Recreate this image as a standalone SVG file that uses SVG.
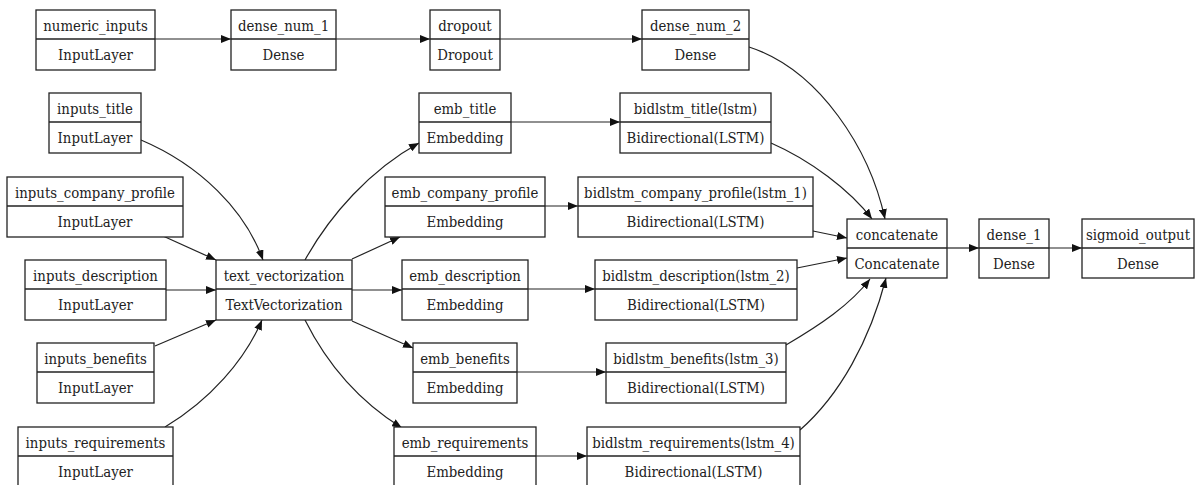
<svg xmlns="http://www.w3.org/2000/svg" width="1197" height="485" viewBox="0 0 1197 485">
<style>
.box{fill:#fff;stroke:#222;stroke-width:1.3}
.sep{stroke:#222;stroke-width:1.3}
text{font-family:"DejaVu Serif Condensed","DejaVu Serif","Liberation Serif",serif;font-stretch:condensed;font-size:14.8px;fill:#222;text-anchor:middle}
.e{fill:none;stroke:#222;stroke-width:1.2;marker-end:url(#ah)}
</style>
<defs>
<marker id="ah" markerUnits="userSpaceOnUse" markerWidth="11" markerHeight="8" refX="10" refY="4" orient="auto">
<path d="M0,0 L10,4 L0,8 Z" fill="#111"/>
</marker>
</defs>
<rect width="1197" height="485" fill="#fff"/>
<g id="connectors">
<path class="e" d="M155,39 L231,39"/>
<path class="e" d="M336,39 L430,39"/>
<path class="e" d="M500,39 L642,39"/>
<path class="e" d="M749,47 C820,70 870,150 885,219"/>
<path class="e" d="M771,143 C810,160 850,190 872,219"/>
<path class="e" d="M813,231 L847,238"/>
<path class="e" d="M797,268 L847,258"/>
<path class="e" d="M786,345 C820,325 850,305 870,279"/>
<path class="e" d="M800,430 C840,395 870,340 886,278"/>
<path class="e" d="M947,248 L979,248"/>
<path class="e" d="M1049,248 L1082,248"/>
<path class="e" d="M141,140 C200,165 245,210 263,260"/>
<path class="e" d="M163,236 L216,260"/>
<path class="e" d="M166,290 L216,290"/>
<path class="e" d="M155,346 L216,320"/>
<path class="e" d="M165,427 C210,400 245,360 262,320"/>
<path class="e" d="M305,260 C330,215 370,170 419,143"/>
<path class="e" d="M352,259 L400,237"/>
<path class="e" d="M352,290 L402,290"/>
<path class="e" d="M352,321 L413,348"/>
<path class="e" d="M305,320 C330,370 365,405 402,428"/>
<path class="e" d="M511,122 L620,122"/>
<path class="e" d="M545,206 L578,206"/>
<path class="e" d="M528,289 L595,289"/>
<path class="e" d="M517,372 L606,372"/>
<path class="e" d="M536,456 L587,456"/>
</g>
<g id="numeric_inputs"><rect class="box" x="36" y="10" width="119" height="60"/><line class="sep" x1="36" y1="39" x2="155" y2="39"/><text x="95.5" y="31">numeric_inputs</text><text x="95.5" y="60">InputLayer</text></g>
<g id="dense_num_1"><rect class="box" x="231" y="10" width="105" height="60"/><line class="sep" x1="231" y1="39" x2="336" y2="39"/><text x="283.5" y="31">dense_num_1</text><text x="283.5" y="60">Dense</text></g>
<g id="dropout"><rect class="box" x="430" y="10" width="70" height="60"/><line class="sep" x1="430" y1="39" x2="500" y2="39"/><text x="465" y="31">dropout</text><text x="465" y="60">Dropout</text></g>
<g id="dense_num_2"><rect class="box" x="642" y="10" width="107" height="60"/><line class="sep" x1="642" y1="39" x2="749" y2="39"/><text x="695.5" y="31">dense_num_2</text><text x="695.5" y="60">Dense</text></g>
<g id="inputs_title"><rect class="box" x="49" y="93" width="92" height="60"/><line class="sep" x1="49" y1="122" x2="141" y2="122"/><text x="95" y="114">inputs_title</text><text x="95" y="143">InputLayer</text></g>
<g id="emb_title"><rect class="box" x="419" y="93" width="92" height="60"/><line class="sep" x1="419" y1="122" x2="511" y2="122"/><text x="465" y="114">emb_title</text><text x="465" y="143">Embedding</text></g>
<g id="bidlstm_title"><rect class="box" x="620" y="93" width="151" height="60"/><line class="sep" x1="620" y1="122" x2="771" y2="122"/><text x="695.5" y="114">bidlstm_title(lstm)</text><text x="695.5" y="143">Bidirectional(LSTM)</text></g>
<g id="inputs_company_profile"><rect class="box" x="7" y="177" width="176" height="60"/><line class="sep" x1="7" y1="206" x2="183" y2="206"/><text x="95" y="198">inputs_company_profile</text><text x="95" y="227">InputLayer</text></g>
<g id="emb_company_profile"><rect class="box" x="385" y="177" width="160" height="60"/><line class="sep" x1="385" y1="206" x2="545" y2="206"/><text x="465" y="198">emb_company_profile</text><text x="465" y="227">Embedding</text></g>
<g id="bidlstm_company_profile"><rect class="box" x="578" y="177" width="235" height="60"/><line class="sep" x1="578" y1="206" x2="813" y2="206"/><text x="695.5" y="198">bidlstm_company_profile(lstm_1)</text><text x="695.5" y="227">Bidirectional(LSTM)</text></g>
<g id="inputs_description"><rect class="box" x="25" y="260" width="141" height="60"/><line class="sep" x1="25" y1="289" x2="166" y2="289"/><text x="95.5" y="281">inputs_description</text><text x="95.5" y="310">InputLayer</text></g>
<g id="text_vectorization"><rect class="box" x="216" y="260" width="136" height="60"/><line class="sep" x1="216" y1="289" x2="352" y2="289"/><text x="284" y="281">text_vectorization</text><text x="284" y="310">TextVectorization</text></g>
<g id="emb_description"><rect class="box" x="402" y="260" width="126" height="60"/><line class="sep" x1="402" y1="289" x2="528" y2="289"/><text x="465" y="281">emb_description</text><text x="465" y="310">Embedding</text></g>
<g id="bidlstm_description"><rect class="box" x="595" y="260" width="202" height="60"/><line class="sep" x1="595" y1="289" x2="797" y2="289"/><text x="696" y="281">bidlstm_description(lstm_2)</text><text x="696" y="310">Bidirectional(LSTM)</text></g>
<g id="concatenate"><rect class="box" x="847" y="219" width="100" height="59"/><line class="sep" x1="847" y1="248" x2="947" y2="248"/><text x="897" y="240">concatenate</text><text x="897" y="269">Concatenate</text></g>
<g id="dense_1"><rect class="box" x="979" y="219" width="70" height="59"/><line class="sep" x1="979" y1="248" x2="1049" y2="248"/><text x="1014" y="240">dense_1</text><text x="1014" y="269">Dense</text></g>
<g id="sigmoid_output"><rect class="box" x="1082" y="219" width="112" height="59"/><line class="sep" x1="1082" y1="248" x2="1194" y2="248"/><text x="1138" y="240">sigmoid_output</text><text x="1138" y="269">Dense</text></g>
<g id="inputs_benefits"><rect class="box" x="37" y="343" width="117" height="60"/><line class="sep" x1="37" y1="372" x2="154" y2="372"/><text x="95.5" y="364">inputs_benefits</text><text x="95.5" y="393">InputLayer</text></g>
<g id="emb_benefits"><rect class="box" x="413" y="343" width="104" height="60"/><line class="sep" x1="413" y1="372" x2="517" y2="372"/><text x="465" y="364">emb_benefits</text><text x="465" y="393">Embedding</text></g>
<g id="bidlstm_benefits"><rect class="box" x="606" y="343" width="180" height="60"/><line class="sep" x1="606" y1="372" x2="786" y2="372"/><text x="696" y="364">bidlstm_benefits(lstm_3)</text><text x="696" y="393">Bidirectional(LSTM)</text></g>
<g id="inputs_requirements"><rect class="box" x="18" y="427" width="155" height="60"/><line class="sep" x1="18" y1="456" x2="173" y2="456"/><text x="95.5" y="448">inputs_requirements</text><text x="95.5" y="477">InputLayer</text></g>
<g id="emb_requirements"><rect class="box" x="394" y="427" width="142" height="60"/><line class="sep" x1="394" y1="456" x2="536" y2="456"/><text x="465" y="448">emb_requirements</text><text x="465" y="477">Embedding</text></g>
<g id="bidlstm_requirements"><rect class="box" x="587" y="427" width="213" height="60"/><line class="sep" x1="587" y1="456" x2="800" y2="456"/><text x="693.5" y="448">bidlstm_requirements(lstm_4)</text><text x="693.5" y="477">Bidirectional(LSTM)</text></g>
</svg>
